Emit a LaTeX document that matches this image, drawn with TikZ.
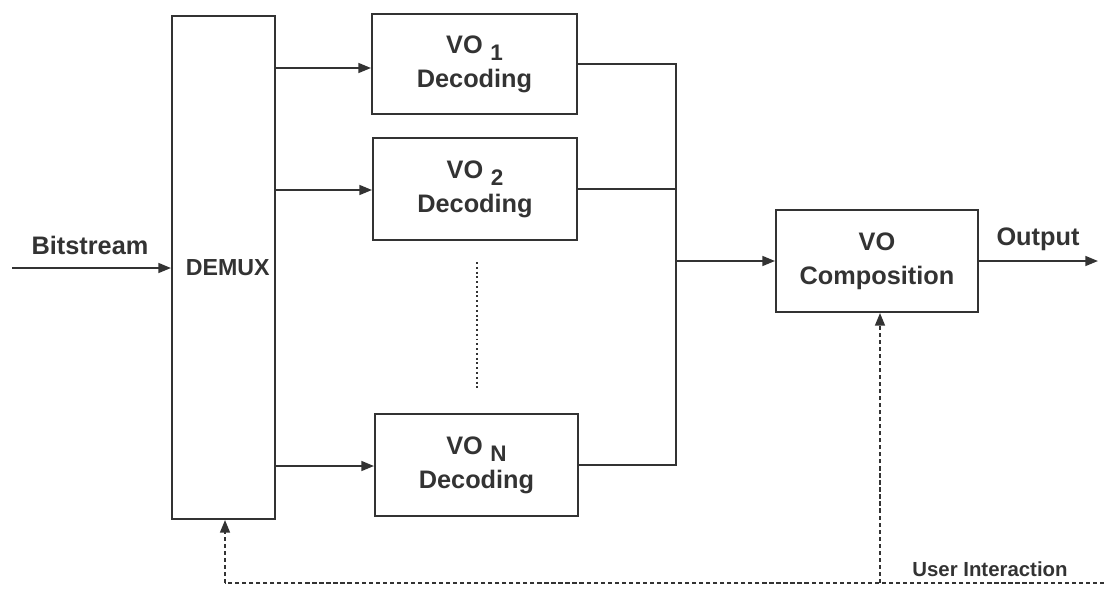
\documentclass[tikz,border=0pt]{standalone}
\usepackage{fontspec}
\setmainfont{Liberation Sans}
\usetikzlibrary{arrows.meta}
\definecolor{ink}{HTML}{333333}
\tikzset{
  box/.style={draw=ink, line width=1.4pt, inner sep=0pt, align=center, text=ink, font=\fontsize{18}{24}\selectfont\bfseries},
  ln/.style={draw=ink, line width=1.4pt},
  arr/.style={ln, -{Triangle[length=9pt,width=7pt]}},
  dsh/.style={draw=ink, line width=1.4pt, dash pattern=on 3pt off 2pt},
  lbl/.style={text=ink, inner sep=0pt, font=\fontsize{18}{21}\selectfont\bfseries},
}
\newcommand{\lowsub}[1]{\hspace{0.3em}\raisebox{-0.55ex}[0pt][0pt]{\fontsize{16}{18}\selectfont #1}}
\begin{document}
\begin{tikzpicture}[x=0.025cm, y=-0.025cm]
\useasboundingbox (0,0) rectangle (1104,593);
\node[box, minimum width=103*0.025cm, minimum height=503*0.025cm, font=\fontsize{16.5}{20}\selectfont\bfseries] (demux) at (223.5,267.5) {\hspace*{6pt}DEMUX};
\node[box, minimum width=205*0.025cm, minimum height=100*0.025cm] (vo1) at (474.5,64) {VO\lowsub{1}\\Decoding};
\node[box, minimum width=204*0.025cm, minimum height=102*0.025cm] (vo2) at (475,189) {VO\lowsub{2}\\Decoding};
\node[box, minimum width=203*0.025cm, minimum height=102*0.025cm] (von) at (476.5,465) {VO\lowsub{N}\\Decoding};
\node[box, minimum width=202*0.025cm, minimum height=102*0.025cm] (comp) at (877,261) {VO\\Composition};

\coordinate (in) at (12,268);
\coordinate (bx) at (676,0);
\coordinate (out) at (1098,261);
\coordinate (d1) at (477,262);
\coordinate (d2) at (477,388);
\coordinate (ue) at (1104,583);
\coordinate (uc) at (880,583);
\coordinate (ud) at (225,583);

\node[lbl] (bitlbl) at (90,245) {Bitstream};
\node[lbl] (outlbl) at (1038,239) {Output};
\node[lbl, font=\fontsize{14.5}{17}\selectfont\bfseries] (uilbl) at (990,569) {User Interaction};

\draw[arr] (in) -- (in -| demux.west);
\draw[arr] (demux.east |- 0,68) -- (vo1.west |- 0,68);
\draw[arr] (demux.east |- 0,190) -- (vo2.west |- 0,190);
\draw[arr] (demux.east |- 0,466) -- (von.west |- 0,466);
\draw[ln, dotted, line width=1.2pt] (d1) -- (d2);
\draw[ln] (vo1.east) -| (bx |- von.east) -- (von.east);
\draw[ln] (vo2.east) -- (vo2.east -| bx);
\draw[arr] (bx |- comp.west) -- (comp.west);
\draw[arr] (comp.east) -- (out);
\draw[dsh] (ue) -- (ud);
\draw[dsh, -{Triangle[length=9pt,width=7pt]}] (ud) -- (ud |- demux.south);
\draw[dsh, -{Triangle[length=9pt,width=7pt]}] (uc) -- (uc |- comp.south);
\end{tikzpicture}
\end{document}
